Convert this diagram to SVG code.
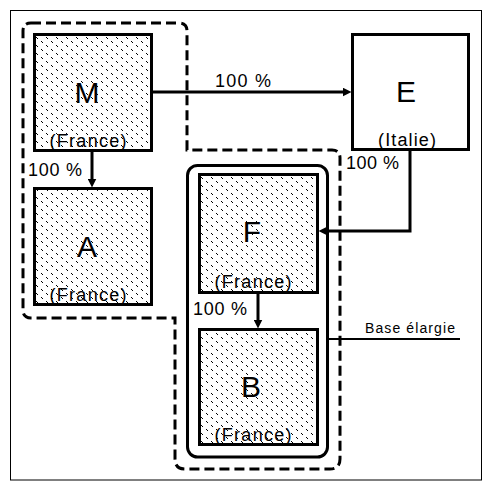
<svg xmlns="http://www.w3.org/2000/svg" width="493" height="492" viewBox="0 0 493 492">
<defs>
<pattern id="dots" width="10" height="8" patternUnits="userSpaceOnUse">
<rect width="10" height="8" fill="#fff"/>
<rect x="1" y="1" width="1" height="1" fill="#000"/>
<rect x="2" y="2" width="1" height="1" fill="#000"/>
<rect x="6" y="5" width="1" height="1" fill="#000"/>
<rect x="7" y="6" width="1" height="1" fill="#000"/>
</pattern>
<marker id="arr" viewBox="0 0 10 10" refX="5" refY="5" markerWidth="9" markerHeight="9" markerUnits="userSpaceOnUse" orient="auto">
<path d="M0,0 L10,5 L0,10 Z" fill="#000"/>
</marker>
<style>
.box{fill:url(#dots);stroke:#000;stroke-width:3}
.plain{fill:#fff;stroke:#000;stroke-width:3}
.big{font-family:"Liberation Sans",Arial,sans-serif;font-size:30px;text-anchor:middle;fill:#000}
.sub{font-family:"Liberation Sans",Arial,sans-serif;font-size:18px;text-anchor:middle;fill:#000}
.lbl{font-family:"Liberation Sans",Arial,sans-serif;font-size:18px;fill:#000}
.small{font-family:"Liberation Sans",Arial,sans-serif;font-size:14px;fill:#000}
.conn{fill:none;stroke:#000;stroke-width:3}
.dash{fill:none;stroke:#000;stroke-width:3;stroke-dasharray:10 5}
</style>
</defs>
<rect x="10.5" y="10.5" width="471" height="469.5" fill="#fff" stroke="#000" stroke-width="1"/>
<g id="group-dashed">
<path class="dash" d="M31,23 H179 Q187,23 187,31 V150 H332 Q340,150 340,158 V459 Q340,469 330,469 H185 Q175,469 175,459 V318 H31 Q23,318 23,310 V31 Q23,23 31,23 Z"/>
</g>
<g id="group-base">
<rect x="187.5" y="165.5" width="140" height="291.5" rx="10" fill="none" stroke="#000" stroke-width="3"/>
<line x1="329" y1="339" x2="460" y2="339" stroke="#000" stroke-width="2"/>
<text class="small" x="365" y="333" textLength="90">Base élargie</text>
</g>
<g id="M">
<rect class="box" x="34.5" y="34.5" width="117" height="116"/>
<text class="big" x="87" y="103">M</text>
<text class="sub" x="88" y="147" textLength="77">(France)</text>
</g>
<g id="A">
<rect class="box" x="34.5" y="188.5" width="117" height="116"/>
<text class="big" x="87" y="257">A</text>
<text class="sub" x="88" y="301" textLength="77">(France)</text>
</g>
<g id="E">
<rect class="plain" x="352.5" y="34.5" width="116" height="115"/>
<text class="big" x="406" y="102">E</text>
<text class="sub" x="407" y="146" textLength="58">(Italie)</text>
</g>
<g id="F">
<rect class="box" x="199.5" y="174.5" width="118" height="118"/>
<text class="big" x="252" y="242">F</text>
<text class="sub" x="253" y="288" textLength="77">(France)</text>
</g>
<g id="B">
<rect class="box" x="199.5" y="329.5" width="118" height="115"/>
<text class="big" x="251" y="397">B</text>
<text class="sub" x="253" y="441" textLength="77">(France)</text>
</g>
<g id="connectors">
<path class="conn" d="M153,92 H347" marker-end="url(#arr)"/>
<path class="conn" d="M92,151 V183" marker-end="url(#arr)"/>
<path class="conn" d="M410,150 V231 H323" marker-end="url(#arr)"/>
<path class="conn" d="M258,293 V324" marker-end="url(#arr)"/>
<text class="lbl" x="215" y="87" textLength="56">100 %</text>
<text class="lbl" x="28" y="176" textLength="54">100 %</text>
<text class="lbl" x="346" y="169" textLength="53">100 %</text>
<text class="lbl" x="193" y="315" textLength="54">100 %</text>
</g>
</svg>
